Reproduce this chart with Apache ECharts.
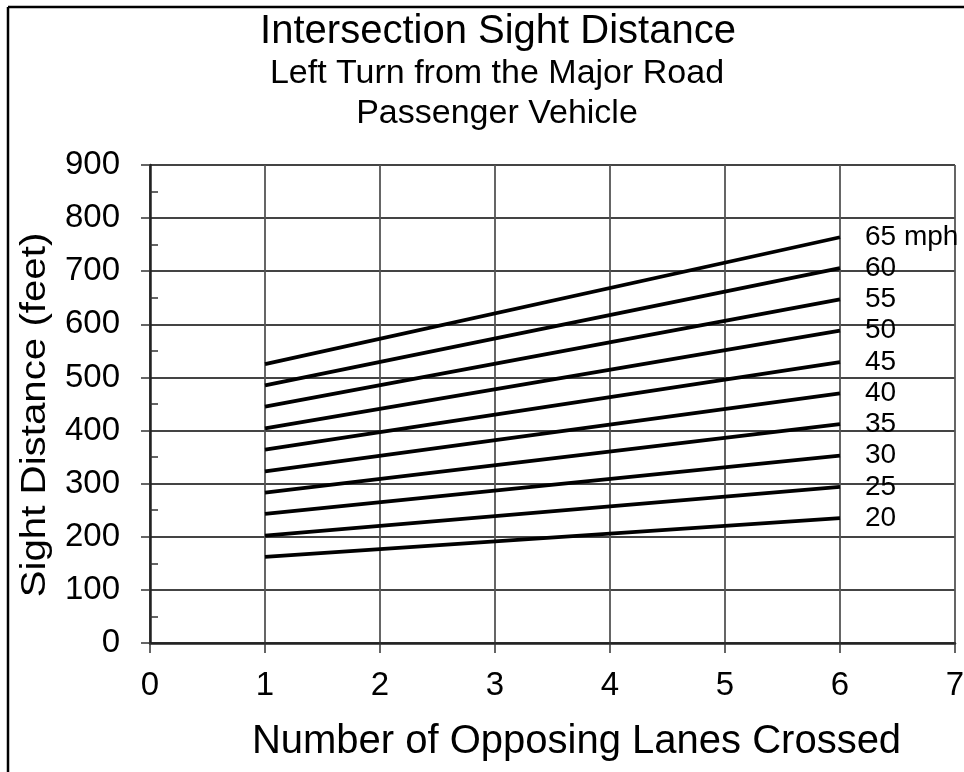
<!DOCTYPE html>
<html><head><meta charset="utf-8">
<script src="https://cdn.jsdelivr.net/npm/echarts@6/dist/echarts.min.js"></script>
<style>html,body{margin:0;padding:0;background:#fff}#c{width:964px;height:772px}</style>
</head><body><div id="c"></div>
<script>
const lanes = [1, 6];
const speeds = ['65 mph', '60', '55', '50', '45', '40', '35', '30', '25', '20'];
const startDist = [525, 485, 445, 404, 364, 323, 283, 243, 202, 162];
const endDist = [764, 706, 647, 588, 529, 470, 412, 353, 294, 235];
const xTicks = [0, 1, 2, 3, 4, 5, 6, 7];
const yTicks = [0, 100, 200, 300, 400, 500, 600, 700, 800, 900];

const FONT = '"Liberation Sans", Arial, sans-serif';
const chart = echarts.init(document.getElementById('c'));
const series = speeds.map((s, i) => ({
  type: 'line',
  name: s,
  data: [[lanes[0], startDist[i]], [lanes[1], endDist[i]]],
  symbol: 'none',
  lineStyle: { color: '#000', width: 3.8 },
  silent: true,
  endLabel: {
    show: true, formatter: s, color: '#000', fontFamily: FONT, fontSize: 28,
    distance: 25
  }
}));
chart.setOption({
  animation: false,
  backgroundColor: '#fff',
  title: [
    { text: 'Intersection Sight Distance', left: 493, top: 7, textAlign: 'center',
      textStyle: { fontFamily: FONT, fontSize: 40, fontWeight: 'normal', color: '#000' } },
    { text: 'Left Turn from the Major Road\nPassenger Vehicle', left: 492, top: 49, textAlign: 'center',
      textStyle: { fontFamily: FONT, fontSize: 34, fontWeight: 'normal', color: '#000', lineHeight: 40 } }
  ],
  grid: { left: 150, right: 9, top: 165, bottom: 129, outerBoundsMode: 'none', containLabel: false },
  xAxis: {
    type: 'value', min: 0, max: 7, interval: 1,
    name: 'Number of Opposing Lanes Crossed', nameLocation: 'middle', nameGap: 79,
    nameTextStyle: { fontFamily: FONT, fontSize: 40, color: '#000', padding: [0, 0, 0, 48] },
    axisLine: { lineStyle: { color: '#222', width: 2.5 } },
    axisTick: { show: true, length: 10, lineStyle: { color: '#333', width: 1.5 } },
    axisLabel: { fontFamily: FONT, fontSize: 33, color: '#000', margin: 26,
      formatter: v => xTicks.includes(v) ? String(v) : '' },
    splitLine: { show: true, lineStyle: { color: '#555', width: 1.8 } }
  },
  yAxis: {
    type: 'value', min: 0, max: 900, interval: 100,
    axisLine: { show: true, lineStyle: { color: '#222', width: 2.5 } },
    axisTick: { show: true, length: 9, lineStyle: { color: '#333', width: 1.5 } },
    minorTick: { show: true, splitNumber: 2, length: -8, lineStyle: { color: '#333', width: 1.5 } },
    axisLabel: { fontFamily: FONT, fontSize: 33, color: '#000', margin: 30,
      formatter: v => yTicks.includes(v) ? String(v) : '' },
    splitLine: { show: true, lineStyle: { color: '#444', width: 1.8 } }
  },
  graphic: [
    { type: 'line', shape: { x1: 8, y1: 7, x2: 964, y2: 7 }, style: { stroke: '#000', lineWidth: 2.5 } },
    { type: 'line', shape: { x1: 8, y1: 7, x2: 8, y2: 772 }, style: { stroke: '#000', lineWidth: 2.5 } },
    { type: 'text', x: 35, y: 415, rotation: Math.PI / 2, scaleX: 1.15,
      style: { text: 'Sight Distance (feet)', font: '35px "Liberation Sans", Arial, sans-serif',
        fill: '#000', align: 'center', verticalAlign: 'middle' } }
  ],
  series
});
</script></body></html>
